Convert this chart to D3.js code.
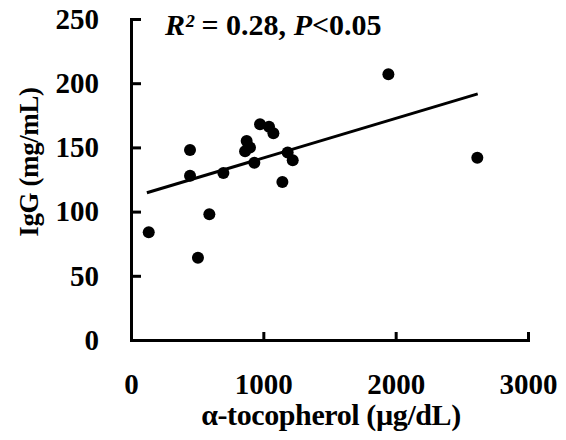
<!DOCTYPE html>
<meta charset="utf-8">
<style>
body {
  margin: 0;
  background: white;
}
text {
  font-family: "Liberation Serif", "Times New Roman", serif;
  font-weight: bold;
  fill: #000;
}
.axis path, .axis line {
  stroke: #000;
  stroke-width: 3px;
}
.axis text {
  font-size: 29px;
  fill: #000;
}
</style>
<body>
<svg width="566" height="440"></svg>
<script src="https://cdn.jsdelivr.net/npm/d3@7"></script>
<script>
// alpha-tocopherol (ug/dL) vs IgG (mg/mL)
var tocopherol = [134, 446, 446, 506, 592, 698, 862, 874, 899, 932, 975, 1043, 1076, 1144, 1184, 1222, 1945, 2617];
var igg        = [84,  148, 128, 64,  98,  130, 147, 155, 150, 138, 168, 166,  161,  123,  146,  140,  207,  142];

var xTicks = [0, 1000, 2000, 3000];
var yTicks = [0, 50, 100, 150, 200, 250];

// fitted line, as drawn
var fitX = [120, 2620];
var slope = 0.0308, intercept = 111;

var svg = d3.select("svg"),
    margin = {top: 19, right: 38, bottom: 100, left: 131},
    width = +svg.attr("width") - margin.left - margin.right,
    height = +svg.attr("height") - margin.top - margin.bottom;

var x = d3.scaleLinear().domain([0, 3000]).range([0, width]),
    y = d3.scaleLinear().domain([0, 250]).range([height, 0]);

var g = svg.append("g")
    .attr("transform", "translate(" + margin.left + "," + margin.top + ")");

g.append("g")
    .attr("class", "axis axis--x")
    .attr("transform", "translate(0," + height + ")")
    .call(d3.axisBottom(x).tickValues(xTicks).tickFormat(d3.format("d"))
      .tickSizeInner(-8).tickSizeOuter(0).tickPadding(33));

g.append("g")
    .attr("class", "axis axis--y")
    .call(d3.axisLeft(y).tickValues(yTicks).tickFormat(d3.format("d"))
      .tickSizeInner(-10).tickSizeOuter(0).tickPadding(32));

g.selectAll(".axis path").attr("stroke-linecap", "square");
g.selectAll(".axis text").attr("fill", "#000");

g.append("line")
    .attr("x1", x(fitX[0]))
    .attr("y1", y(intercept + slope * fitX[0]))
    .attr("x2", x(fitX[1]))
    .attr("y2", y(intercept + slope * fitX[1]))
    .attr("stroke", "black")
    .attr("stroke-width", 3);

g.selectAll(".dot")
    .data(tocopherol)
  .enter().append("circle")
    .attr("class", "dot")
    .attr("cx", function(d) { return x(d); })
    .attr("cy", function(d, i) { return y(igg[i]); })
    .attr("r", 6)
    .attr("fill", "black");

// axis titles
svg.append("text")
    .attr("x", 331)
    .attr("y", 425)
    .attr("text-anchor", "middle")
    .style("font-size", "30px")
    .style("letter-spacing", "-0.4px")
    .text("α-tocopherol (µg/dL)");

svg.append("text")
    .attr("transform", "translate(38,162) rotate(-90)")
    .attr("text-anchor", "middle")
    .style("font-size", "27px")
    .style("letter-spacing", "-0.4px")
    .text("IgG (mg/mL)");

var note = svg.append("text")
    .attr("x", 165)
    .attr("y", 35)
    .style("font-size", "30px");
note.append("tspan").style("font-style", "italic").text("R²");
note.append("tspan").text(" = 0.28, ");
note.append("tspan").style("font-style", "italic").text("P");
note.append("tspan").text("<0.05");
</script>
</body>
